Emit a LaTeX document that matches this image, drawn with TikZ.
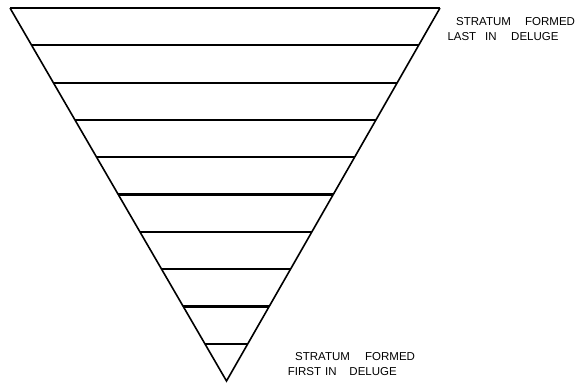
\documentclass[tikz,border=0pt]{standalone}
\usepackage{fontspec}
\setmainfont{Liberation Sans}
\usetikzlibrary{calc}
\begin{document}
\begin{tikzpicture}[x=1pt,y=-1pt,
  sideline/.style={line width=1.6pt},
  strataline/.style={line width=2.2pt},
  lbl/.style={anchor=base west,inner sep=0pt,font=\fontsize{11.5}{13}\selectfont}]
\useasboundingbox (0,0) rectangle (579,384);
\coordinate (A) at (10,8);
\coordinate (B) at (440,8);
\coordinate (C) at (226.5,381);
\draw[sideline] (A) -- (C) -- (B);
\foreach \k in {0,...,9}{
  \draw[strataline] ($(A)!\k/10!(C)$) -- ($(B)!\k/10!(C)$);
}
\node[lbl] (t1) at (456,25) {\rlap{STRATUM}\hspace{69pt}FORMED};
\node[lbl] (t2) at (447.3,40.7) {\rlap{LAST}\hspace{37.7pt}\rlap{IN}\hspace{26pt}DELUGE};
\node[lbl] (b1) at (295,360) {\rlap{STRATUM}\hspace{70pt}FORMED};
\node[lbl] (b2) at (287.7,375.7) {\rlap{FIRST}\hspace{37.3pt}\rlap{IN}\hspace{24.3pt}DELUGE};
\end{tikzpicture}
\end{document}
